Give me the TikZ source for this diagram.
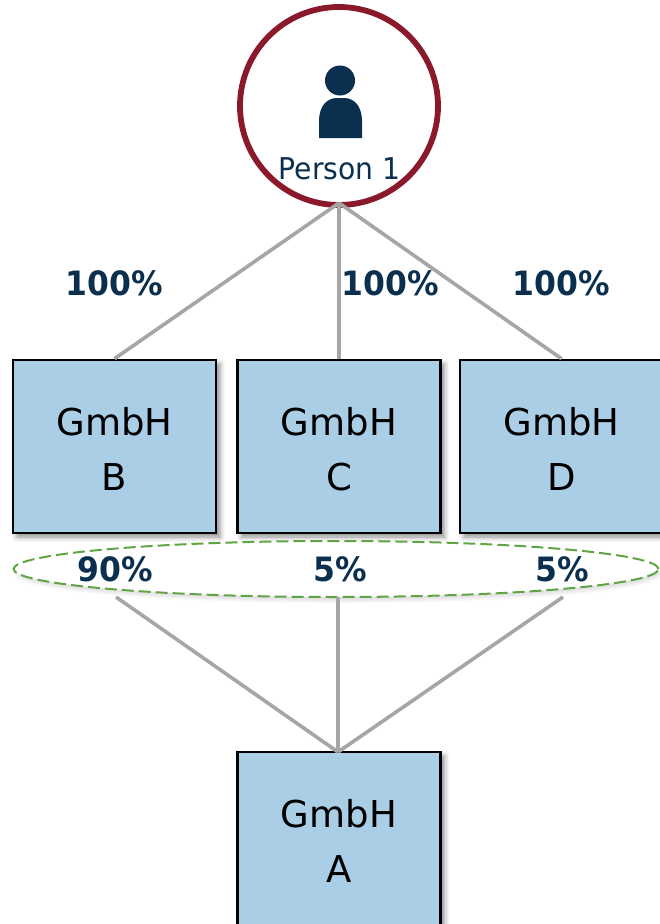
\documentclass[tikz,border=0pt]{standalone}
\usepackage{fontspec}
\setmainfont[FakeStretch=0.94]{DejaVu Sans}
\newfontfamily\boxfont{DejaVu Sans}
\usetikzlibrary{shadows, shadows.blur, shapes.geometric}
\definecolor{boxblue}{HTML}{A9CEE6}
\definecolor{navy}{HTML}{0B2F4E}
\definecolor{ringred}{HTML}{8A1A2B}
\definecolor{linegray}{HTML}{A6A6A6}
\definecolor{ovalgreen}{HTML}{5FA544}
\tikzset{
    gmbh/.style={draw=black, line width=2.6pt, fill=boxblue, minimum width=203pt, minimum height=173pt,
        align=center, font=\boxfont\fontsize{37}{55}\selectfont, text=black, text height=88pt,
        blur shadow={shadow xshift=4pt, shadow yshift=-4pt, shadow blur radius=5pt, shadow opacity=45}},
    share/.style={font=\fontsize{33.5}{33.5}\selectfont\bfseries, text=navy, inner sep=0pt},
    link/.style={draw=linegray, line width=3.6pt}
}
\begin{document}
\begin{tikzpicture}[x=1pt, y=-1pt, node distance=223pt]
    \useasboundingbox (0,0) rectangle (659,924);

    % Lines
    \coordinate (top) at (339,203);
    \coordinate (apex) at (338,752);
    \coordinate (endb) at (116,597);
    \coordinate (endc) at (338,597);
    \coordinate (endd) at (563,597);

    % Nodes
    \node (person) [circle, draw=ringred, line width=5.8pt, fill=white, minimum size=198pt] at (339,106) {};
    \node (head) [circle, fill=navy, minimum size=30pt, inner sep=0pt] at (340,80.5) {};
    \fill[navy] (319,138) -- (319,121) .. controls (319,106) and (327,98) .. (337,98)
        -- (344,98) .. controls (354,98) and (362,106) .. (362,121) -- (362,138) -- cycle;
    \node (name) [text=navy, font=\fontsize{30}{30}\selectfont, inner sep=0pt] at (339.5,169) {Person 1};

    \node (c) [gmbh] at (339,446.5) {GmbH\\C};
    \node (b) [gmbh, left of=c, node distance=224.5pt] {GmbH\\B};
    \node (d) [gmbh, right of=c, node distance=222.5pt] {GmbH\\D};
    \node (a) [gmbh, minimum height=180pt, text height=81pt] at (339,842) {GmbH\\A};

    \node (oval) [ellipse, draw=ovalgreen, line width=2pt, dash pattern=on 12pt off 5pt,
        minimum width=645pt, minimum height=56pt, inner sep=0pt, fill=white,
        blur shadow={shadow xshift=2pt, shadow yshift=-4pt, shadow blur radius=3pt, shadow opacity=12}] at (336,569) {};

    \node (pb) [share] at (114.5,283) {100\%};
    \node (pc) [share] at (390,283) {100\%};
    \node (pd) [share] at (561,283) {100\%};
    \node (qb) [share] at (115.5,569) {90\%};
    \node (qc) [share] at (340,569) {5\%};
    \node (qd) [share] at (562.5,569) {5\%};

    % Edges
    \draw[link] (top) -- (b.north);
    \draw[link] (top) -- (c.north);
    \draw[link] (top) -- (d.north);
    \draw[link] (endb) -- (apex);
    \draw[link] (endc) -- (apex);
    \draw[link] (endd) -- (apex);
\end{tikzpicture}
\end{document}
